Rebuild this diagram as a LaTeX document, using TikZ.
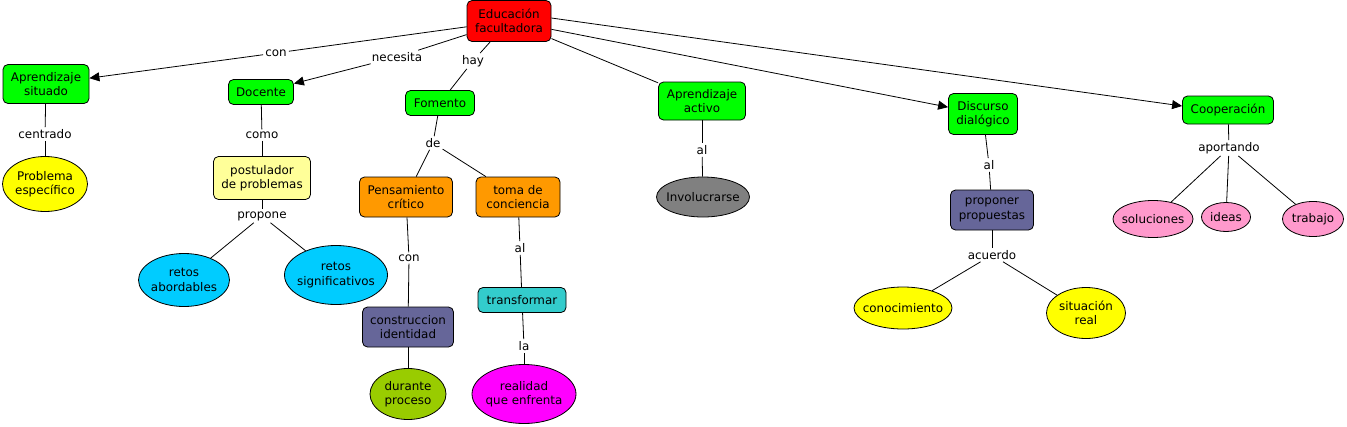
\documentclass[tikz,border=0pt]{standalone}
\usepackage{fontspec}
\setmainfont{DejaVu Sans}
\usetikzlibrary{shapes.geometric,arrows.meta}
\definecolor{cgreen}{HTML}{00FF00}
\definecolor{corange}{HTML}{FF9900}
\definecolor{clyellow}{HTML}{FFFF99}
\definecolor{cyellow}{HTML}{FFFF00}
\definecolor{ccyan}{HTML}{00CCFF}
\definecolor{cslate}{HTML}{666699}
\definecolor{cteal}{HTML}{33CCCC}
\definecolor{colive}{HTML}{99CC00}
\definecolor{cmagenta}{HTML}{FF00FF}
\definecolor{cgray}{HTML}{808080}
\definecolor{cpink}{HTML}{FF99CC}
\begin{document}
\begin{tikzpicture}[x=1pt,y=-1pt,font=\fontsize{11.9}{14.3}\selectfont,
  box/.style={draw,rounded corners=5pt,align=center,inner sep=1pt,line width=0.8pt},
  ell/.style={draw,ellipse,inner sep=0pt,line width=0.8pt,label={[align=center,inner sep=0pt]center:#1}},
  lab/.style={inner sep=2pt},
  edge/.style={line width=0.8pt},
  arr/.style={line width=0.8pt,-{Triangle[length=10pt,width=9pt]}}]
\useasboundingbox (0,0) rectangle (1347,426);
% concepts
\node[box,fill=red,minimum width=84pt,minimum height=41pt] (edu) at (509,21) {Educación\\facultadora};
\node[box,fill=cgreen,minimum width=86pt,minimum height=39pt] (asit) at (46,84) {Aprendizaje\\situado};
\node[box,fill=cgreen,minimum width=65pt,minimum height=25pt] (doc) at (261,92) {Docente};
\node[box,fill=cgreen,minimum width=69pt,minimum height=25pt] (fom) at (440,103) {Fomento};
\node[box,fill=cgreen,minimum width=87pt,minimum height=38pt] (aact) at (702,101) {Aprendizaje\\activo};
\node[box,fill=cgreen,minimum width=69pt,minimum height=41pt] (disc) at (983,114) {Discurso\\dialógico};
\node[box,fill=cgreen,minimum width=91pt,minimum height=28pt] (coop) at (1228,110) {Cooperación};
\node[ell={Problema\\específico},fill=cyellow,minimum width=85pt,minimum height=55pt] (prob) at (45,184) {};
\node[box,fill=clyellow,minimum width=97pt,minimum height=43pt] (post) at (262,178) {postulador\\de problemas};
\node[ell={retos\\abordables},fill=ccyan,minimum width=91pt,minimum height=53pt] (ret1) at (184,280) {};
\node[ell={retos\\significativos},fill=ccyan,minimum width=103pt,minimum height=59pt] (ret2) at (336,275) {};
\node[box,fill=corange,minimum width=93pt,minimum height=40pt] (pens) at (406,197) {Pensamiento\\crítico};
\node[box,fill=corange,minimum width=84pt,minimum height=40pt] (toma) at (518,197) {toma de\\conciencia};
\node[box,fill=cteal,minimum width=88pt,minimum height=25pt] (trans) at (522,300) {transformar};
\node[box,fill=cslate,minimum width=91pt,minimum height=40pt] (const) at (408,327) {construccion\\identidad};
\node[ell={durante\\proceso},fill=colive,minimum width=76pt,minimum height=51pt] (dur) at (408,394) {};
\node[ell={realidad\\que enfrenta},fill=cmagenta,minimum width=104pt,minimum height=59pt] (real) at (524,394) {};
\node[ell={Involucrarse},fill=cgray,minimum width=93pt,minimum height=40pt] (invo) at (703,197) {};
\node[box,fill=cslate,minimum width=83pt,minimum height=40pt] (prop) at (992,210) {proponer\\propuestas};
\node[ell={conocimiento},fill=cyellow,minimum width=98pt,minimum height=42pt] (cono) at (903,308) {};
\node[ell={situación\\real},fill=cyellow,minimum width=79pt,minimum height=51pt] (sit) at (1086,313) {};
\node[ell={soluciones},fill=cpink,minimum width=80pt,minimum height=37pt] (sol) at (1153,219) {};
\node[ell={ideas},fill=cpink,minimum width=49pt,minimum height=29pt] (ideas) at (1226,217) {};
\node[ell={trabajo},fill=cpink,minimum width=61pt,minimum height=35pt] (trab) at (1313,219) {};
% linking phrases
\node[lab] (lcon) at (276,53) {con};
\node[lab] (lnec) at (397,57) {necesita};
\node[lab] (lhay) at (473,61) {hay};
\node[lab] (lcen) at (45,134) {centrado};
\node[lab] (lcomo) at (262,135) {como};
\node[lab] (lde) at (433,143) {de};
\node[lab] (lprop) at (262,216) {propone};
\node[lab] (lcon2) at (409,258) {con};
\node[lab] (lal1) at (520,248) {al};
\node[lab] (lla) at (524,346) {la};
\node[lab] (lal2) at (702,150) {al};
\node[lab] (lal3) at (989,165) {al};
\node[lab] (lacu) at (992,255) {acuerdo};
\node[lab] (lapo) at (1229,148) {aportando};
% connectors
\draw[edge] (edu) -- (lcon);
\draw[arr] (lcon) -- (asit);
\draw[edge] (edu) -- (lnec);
\draw[arr] (lnec) -- (doc);
\draw[edge] (edu) -- (lhay);
\draw[edge] (lhay) -- (fom);
\draw[edge] (edu) -- (aact);
\draw[arr] (edu) -- (disc);
\draw[arr] ([yshift=3pt]edu.east) -- ([yshift=4pt]coop.west);
\draw[edge] (asit) -- (lcen);
\draw[edge] (lcen) -- (prob);
\draw[edge] (doc) -- (lcomo);
\draw[edge] (lcomo) -- (post);
\draw[edge] (post) -- (lprop);
\draw[edge] (lprop) -- (ret1);
\draw[edge] (lprop) -- (ret2);
\draw[edge] (fom) -- (lde);
\draw[edge] (lde) -- (pens);
\draw[edge] (lde) -- (toma);
\draw[edge] (pens) -- (lcon2);
\draw[edge] (lcon2) -- (const);
\draw[edge] (const) -- (dur);
\draw[edge] (toma) -- (lal1);
\draw[edge] (lal1) -- (trans);
\draw[edge] (trans) -- (lla);
\draw[edge] (lla) -- (real);
\draw[edge] (aact) -- (lal2);
\draw[edge] (lal2) -- (invo);
\draw[edge] (disc) -- (lal3);
\draw[edge] (lal3) -- (prop);
\draw[edge] (prop) -- (lacu);
\draw[edge] (lacu) -- (cono);
\draw[edge] (lacu) -- (sit);
\draw[edge] (coop) -- (lapo);
\draw[edge] (lapo) -- (sol);
\draw[edge] (lapo) -- (ideas);
\draw[edge] (lapo) -- (trab);
\end{tikzpicture}
\end{document}
